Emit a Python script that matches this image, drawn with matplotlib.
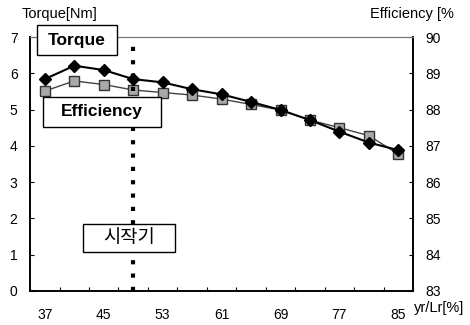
import matplotlib
matplotlib.use("Agg")
import matplotlib.pyplot as plt
from matplotlib.patches import Rectangle

plt.rcParams['font.family'] = ['Liberation Sans', 'Noto Sans CJK KR']

# yr/Lr [%] categories
ratio = [37, 41, 45, 49, 53, 57, 61, 65, 69, 73, 77, 81, 85]
torque = [5.84, 6.21, 6.09, 5.84, 5.75, 5.56, 5.42, 5.21, 4.99, 4.71, 4.39, 4.09, 3.88]
efficiency = [88.51, 88.79, 88.69, 88.54, 88.47, 88.40, 88.29, 88.14, 87.99, 87.71, 87.50, 87.28, 86.77]
start_ratio = 49
tick_labels = [str(r) if i % 2 == 0 else "" for i, r in enumerate(ratio)]

x = list(range(len(ratio)))
W, H = 470, 325

fig = plt.figure(figsize=(W / 100, H / 100), dpi=100)
ax = fig.add_axes([0.064, 0.105, 0.815, 0.781])
ax2 = ax.twinx()

ax.set_xlim(-0.5, len(ratio) - 0.5)
ax.set_ylim(0, 7)
ax2.set_ylim(83, 90)

# efficiency under torque
ax2.plot(x, efficiency, color="#444444", lw=1.0, marker="s", ms=7,
         mfc="#a8a8a8", mec="#333333", mew=1.0, zorder=2)
ax.set_zorder(ax2.get_zorder() + 1)
ax.patch.set_visible(False)
ax.plot(x, torque, color="black", lw=1.5, marker="D", ms=6,
        mfc="black", mec="black", zorder=3)

# starting point marker line
xs = ratio.index(start_ratio)
ax.plot([xs, xs], [0, 7], color="black", lw=3, ls=(0, (1, 2.2)), zorder=1)

# ticks
ax.set_xticks([i - 0.5 for i in range(len(ratio) + 1)], minor=True)
ax.set_xticks(x)
ax.set_xticklabels(tick_labels)
ax.tick_params(axis="x", which="major", length=0, pad=12, labelsize=10)
ax.tick_params(axis="x", which="minor", direction="in", length=3, width=0.8)
ax.set_yticks(range(0, 8))
ax.tick_params(axis="y", direction="in", length=3, width=0.8, labelsize=10, pad=9)
ax2.set_yticks(range(83, 91))
ax2.tick_params(axis="y", direction="in", length=3, width=0.8, labelsize=10, pad=9)

for a in (ax, ax2):
    a.spines["top"].set_color("#777777")
    a.spines["top"].set_linewidth(0.8)
    a.spines["top"].set_linestyle((0, (1, 1)))
    a.spines["left"].set_linewidth(1.2)
    a.spines["bottom"].set_linewidth(1.2)
    a.spines["right"].set_linewidth(1.2)

# axis titles
fig.text(22 / W, 1 - 14 / H, "Torque[Nm]", fontsize=10.5, ha="left", va="center")
fig.text(454 / W, 1 - 14 / H, "Efficiency [%", fontsize=10.5, ha="right", va="center")
fig.text(464 / W, 1 - 308 / H, "yr/Lr[%]", fontsize=10.5, ha="right", va="center")


def label_box(x0, y0, x1, y1, text, **kw):
    # box given in image pixels (top-left origin)
    fig.add_artist(Rectangle((x0 / W, 1 - y1 / H), (x1 - x0) / W, (y1 - y0) / H,
                             transform=fig.transFigure, fc="white", ec="black",
                             lw=1.0, zorder=10))
    fig.text((x0 + x1) / 2 / W, 1 - (y0 + y1) / 2 / H, text, ha="center",
             va="center", zorder=11, **kw)


label_box(37, 25, 117, 55, "Torque", fontsize=12.5, fontweight="bold")
label_box(43, 97, 161, 127, "Efficiency", fontsize=12.5, fontweight="bold")
label_box(83, 224, 175, 252, "시작기", fontsize=13.5)

fig.savefig("out.png", dpi=100)
